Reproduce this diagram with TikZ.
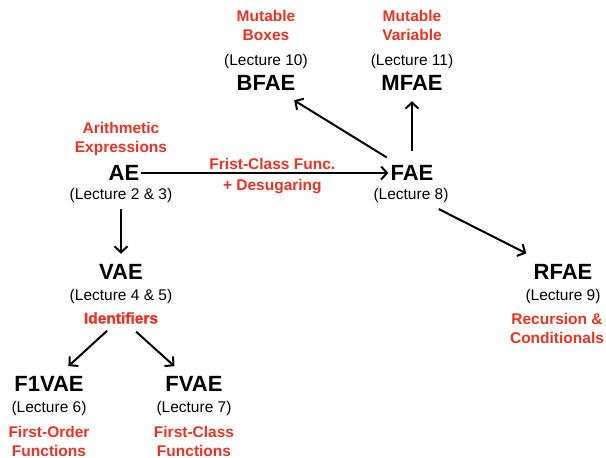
\documentclass[tikz,border=0pt]{standalone}
\usepackage{fontspec}
\setmainfont{Liberation Sans}
\newfontfamily\heavyfont[FakeBold=1.5]{Liberation Sans}
\usetikzlibrary{arrows.meta}
\definecolor{topicred}{RGB}{234,51,35}
\begin{document}
\begin{tikzpicture}[x=1pt,y=-1pt,
  lang/.style={font=\fontsize{22}{24}\selectfont\bfseries,inner sep=2pt},
  lect/.style={font=\fontsize{15.5}{17}\selectfont,inner sep=1pt},
  topic/.style={font=\fontsize{15.5}{19}\selectfont\bfseries,text=topicred,align=center,inner sep=1pt},
  arr/.style={line width=2pt,-{Straight Barb[length=6pt,width=13pt]}}]
  \useasboundingbox (0,0) rectangle (606,458);
  \node[topic] (arith) at (121,138.5) {Arithmetic\\Expressions};
  \node[lang] (ae) at (124,173) {AE};
  \node[lect] (ae-lec) at (121,195) {(Lecture 2 \& 3)};
  \node[lang] (fae) at (412,173) {FAE};
  \node[lect] (fae-lec) at (411,195) {(Lecture 8)};
  \node[topic] (boxes) at (266,25.5) {Mutable\\Boxes};
  \node[lect] (bfae-lec) at (266,61) {(Lecture 10)};
  \node[lang] (bfae) at (266,83) {BFAE};
  \node[topic] (var) at (412,25.5) {Mutable\\Variable};
  \node[lect] (mfae-lec) at (412,61) {(Lecture 11)};
  \node[lang] (mfae) at (412,83) {MFAE};
  \node[lang] (vae) at (121,272) {VAE};
  \node[lect] (vae-lec) at (121,296) {(Lecture 4 \& 5)};
  \node[topic,font=\fontsize{15.5}{19}\selectfont\heavyfont\bfseries] (ident) at (121,318) {Identifiers};
  \node[lang] (f1vae) at (49,384) {F1VAE};
  \node[lect] (f1vae-lec) at (49,408) {(Lecture 6)};
  \node[topic] (first-order) at (49,441) {First-Order\\Functions};
  \node[lang] (fvae) at (194,384) {FVAE};
  \node[lect] (fvae-lec) at (194,408) {(Lecture 7)};
  \node[topic] (first-class) at (194,441) {First-Class\\Functions};
  \node[lang] (rfae) at (563,272) {RFAE};
  \node[lect] (rfae-lec) at (563,296) {(Lecture 9)};
  \node[topic] (recursion) at (557,328.5) {Recursion \&\\Conditionals};
  \draw[arr] (ae) -- node[topic,pos=0.53,above=1pt] (func-lbl) {Frist-Class Func.} node[topic,pos=0.53,below=4pt] (desugar-lbl) {+ Desugaring} (fae);
  \draw[arr,shorten <=6pt,shorten >=8.5pt] (ae-lec) -- (vae);
  \draw[arr,shorten <=11pt,shorten >=14.5pt] (fae) -- (bfae);
  \draw[arr,shorten <=12.5pt,shorten >=8.5pt] (fae) -- (mfae);
  \draw[arr,shorten <=12.5pt,shorten >=19.5pt] (fae-lec) -- (rfae);
  \draw[arr,shorten <=8.7pt,shorten >=12pt] (ident) -- (f1vae);
  \draw[arr,shorten <=10pt,shorten >=12pt] (ident) -- (fvae);
\end{tikzpicture}
\end{document}
